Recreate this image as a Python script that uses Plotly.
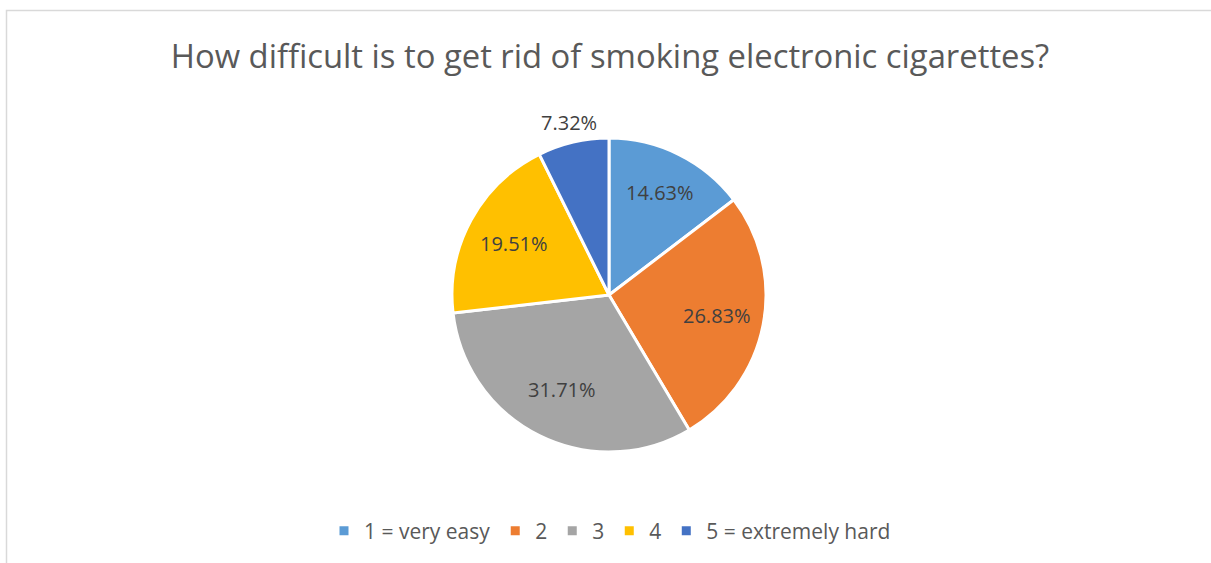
import math
import plotly.graph_objects as go

categories = ["1 = very easy", "2", "3", "4", "5 = extremely hard"]
values = [14.63, 26.83, 31.71, 19.51, 7.32]
colors = ["#5B9BD5", "#ED7D31", "#A5A5A5", "#FFC000", "#4472C4"]
label_radius = [0.73, 0.70, 0.67, 0.69, 1.13]  # fraction of pie radius (Excel-like label placement)

W, H = 1211, 563
cx, cy, r = 609, 295, 157

fig = go.Figure(go.Pie(
    labels=categories,
    values=values,
    sort=False,
    direction="clockwise",
    rotation=0,
    marker=dict(colors=colors, line=dict(color="white", width=3)),
    textinfo="none",
    domain=dict(x=[(cx - r) / W, (cx + r) / W], y=[1 - (cy + r) / H, 1 - (cy - r) / H]),
    hoverinfo="label+percent",
))

# data labels placed along each slice's mid-angle (computed from the values)
total = sum(values)
cum = 0.0
annotations = []
for v, f in zip(values, label_radius):
    mid = (cum + v / 2) / total * 2 * math.pi
    cum += v
    px = cx + f * r * math.sin(mid)
    py = cy - f * r * math.cos(mid)
    annotations.append(dict(
        x=px / W, y=1 - py / H, xref="paper", yref="paper",
        text=f"{v:.2f}%", showarrow=False, xanchor="center", yanchor="middle",
        font=dict(family="Open Sans", size=20, color="#404040"),
    ))

fig.update_layout(
    width=W, height=H,
    margin=dict(l=0, r=0, t=0, b=0),
    paper_bgcolor="white",
    title=dict(text="How difficult is to get rid of smoking electronic cigarettes?",
               x=610 / W, xanchor="center", y=1 - 57 / H, yanchor="middle",
               font=dict(family="Open Sans", size=32.8, color="#595959")),
    legend=dict(orientation="h", x=610 / W, xanchor="center", y=1 - 531 / H, yanchor="middle",
                font=dict(family="Open Sans", size=21, color="#595959"),
                itemwidth=30, traceorder="normal"),
    annotations=annotations,
    shapes=[dict(type="rect", xref="paper", yref="paper",
                 x0=6.5 / W, x1=1.01, y0=-0.05, y1=1 - 10.5 / H,
                 line=dict(color="#D9D9D9", width=1.5), fillcolor="rgba(0,0,0,0)", layer="below")],
)

fig.write_html("out.html", config={"displayModeBar": False},
               post_script="document.body.style.margin='0';")
